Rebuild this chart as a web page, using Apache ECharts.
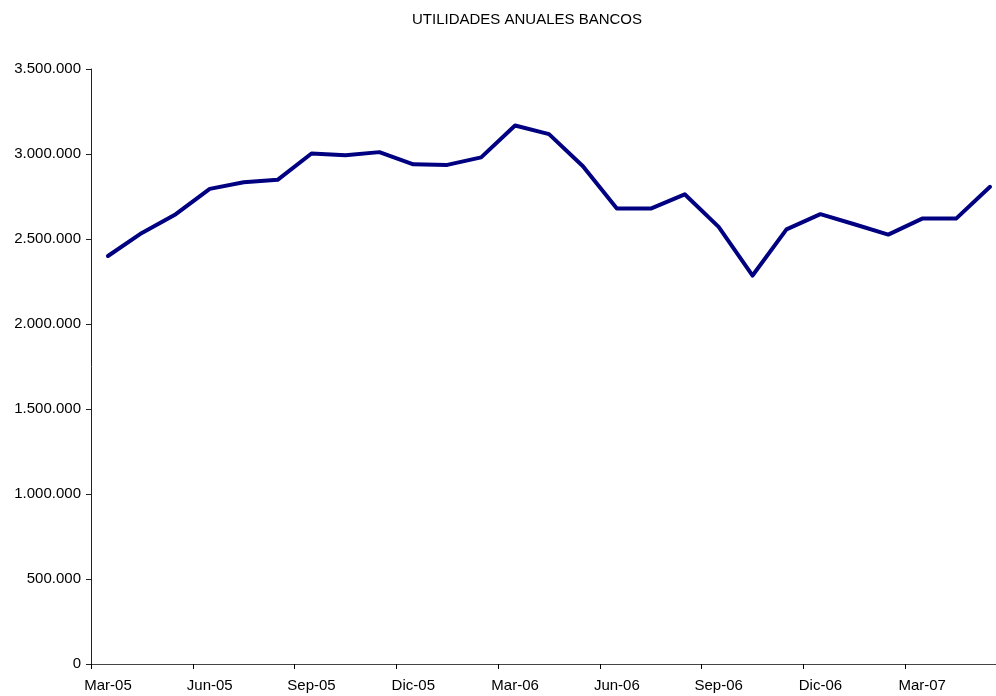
<!DOCTYPE html>
<html><head><meta charset="utf-8">
<script src="https://cdn.jsdelivr.net/npm/echarts@6/dist/echarts.min.js"></script>
<style>html,body{margin:0;padding:0;background:#fff;overflow:hidden;width:996px;height:696px}#c{width:1007px;height:696px}</style>
</head><body><div id="c"></div>
<script>
var categories = ['Mar-05','Abr-05','May-05','Jun-05','Jul-05','Ago-05','Sep-05','Oct-05','Nov-05','Dic-05','Ene-06','Feb-06','Mar-06','Abr-06','May-06','Jun-06','Jul-06','Ago-06','Sep-06','Oct-06','Nov-06','Dic-06','Ene-07','Feb-07','Mar-07','Abr-07','May-07'];
var utilidades = [2400000,2536000,2646000,2795000,2834000,2848000,3003000,2993000,3011000,2939000,2936000,2980000,3168000,3117000,2928000,2679000,2679000,2763000,2571000,2285000,2557000,2646000,2587000,2526000,2620000,2620000,2807000];
var titleText = 'UTILIDADES ANUALES BANCOS';

function fmt(v){return String(v).replace(/\B(?=(\d{3})+(?!\d))/g,'.');}
var chart = echarts.init(document.getElementById('c'));
chart.setOption({
  animation:false,
  title:{text:titleText,left:522,top:7,textAlign:'center',textStyle:{fontFamily:'Liberation Sans',fontSize:15,fontWeight:'normal',color:'#000'}},
  grid:{left:91,right:0,top:69,bottom:32,containLabel:false},
  xAxis:{type:'category',data:categories,boundaryGap:true,
    axisLine:{lineStyle:{color:'#444',width:1}},
    axisTick:{show:true,interval:2,length:5,lineStyle:{color:'#000',width:1}},
    axisLabel:{interval:2,fontFamily:'Liberation Sans',fontSize:15,color:'#000',margin:14},
    splitLine:{show:false}},
  yAxis:{type:'value',min:0,max:3500000,interval:500000,
    axisLine:{show:true,lineStyle:{color:'#222',width:1}},
    axisTick:{show:true,length:5,lineStyle:{color:'#222'}},
    axisLabel:{formatter:fmt,fontFamily:'Liberation Sans',fontSize:15,color:'#000',margin:10},
    splitLine:{show:false}},
  series:[{type:'line',data:utilidades,symbol:'none',lineStyle:{color:'#000080',width:4,cap:'round',join:'round'},itemStyle:{color:'#000080'}}]
});
</script></body></html>
